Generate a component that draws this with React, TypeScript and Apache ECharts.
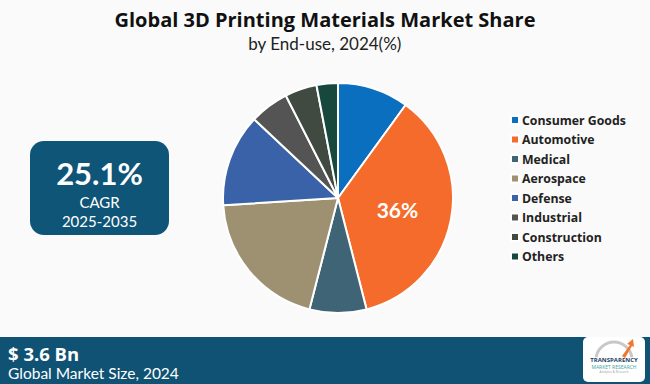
import React, { useEffect, useRef } from "react";
import * as echarts from "echarts";

const categories = ["Consumer Goods", "Automotive", "Medical", "Aerospace", "Defense", "Industrial", "Construction", "Others"];
const shares = [10, 36, 8, 20, 13, 5.5, 4.5, 3];
const colors = ["#0B6FC0", "#F46B2C", "#3F6476", "#9E9172", "#3A62A8", "#545454", "#414A40", "#17473D"];
const labeledCategory = "Automotive";
const titleText = "Global 3D Printing Materials Market Share";
const subtitleText = "by End-use, 2024(%)";
const cagrValue = "25.1%";
const cagrLabel = "CAGR";
const cagrPeriod = "2025-2035";
const marketSize = "$ 3.6 Bn";
const marketSizeLabel = "Global Market Size, 2024";

export default function App() {
  const ref = useRef<HTMLDivElement>(null);
  useEffect(() => {
    document.body.style.margin = "0";
    const chart = echarts.init(ref.current!, null, { renderer: "svg" });
    chart.setOption({
      animation: false,
      backgroundColor: "#FAFAFA",
      legend: {
        orient: "vertical",
        left: 505,
        top: 108,
        itemWidth: 8,
        itemHeight: 8,
        itemGap: 5.5,
        icon: "rect",
        textStyle: { fontFamily: "Open Sans", fontWeight: "bold", fontSize: 12.3, color: "#222", lineHeight: 14, padding: [0, 0, 0, -2] },
        data: categories,
      },
      series: [
        {
          type: "pie",
          center: [338, 198],
          radius: [0, 115],
          startAngle: 90,
          clockwise: true,
          itemStyle: { borderColor: "#FFFFFF", borderWidth: 2 },
          label: { show: false },
          labelLine: { show: false },
          emphasis: { disabled: true },
          data: categories.map((c, i) => ({
            name: c,
            value: shares[i],
            itemStyle: { color: colors[i] },
            label: c === labeledCategory
              ? { show: true, position: "inside", formatter: "{d}%", color: "#FFFFFF", fontFamily: "Lato", fontWeight: "bold", fontSize: 21 }
              : { show: false },
          })),
        },
      ],
      graphic: [
        { type: "text", left: "center", top: 9, style: { text: titleText, font: "bold 20px 'Open Sans'", fill: "#111" } },
        { type: "text", left: "center", top: 35, style: { text: subtitleText, font: "17px Lato", fill: "#222" } },
        { type: "rect", shape: { x: 30, y: 141, width: 139, height: 94, r: 14 }, style: { fill: "#0F5577" } },
        { type: "text", x: 99.5, y: 173, style: { text: cagrValue, font: "bold 31px Lato", fill: "#FFFFFF", align: "center", verticalAlign: "middle" } },
        { type: "text", x: 99.5, y: 202, style: { text: cagrLabel, font: "15px Lato", fill: "#FFFFFF", align: "center", verticalAlign: "middle" } },
        { type: "text", x: 99.5, y: 221, style: { text: cagrPeriod, font: "15px Lato", fill: "#FFFFFF", align: "center", verticalAlign: "middle" } },
        { type: "rect", shape: { x: 0, y: 337, width: 650, height: 47 }, style: { fill: "#0F5274" } },
        { type: "text", x: 8, y: 353, style: { text: marketSize, font: "bold 18.5px 'Open Sans'", fill: "#FFFFFF", verticalAlign: "middle" } },
        { type: "text", x: 8, y: 373, style: { text: marketSizeLabel, font: "15.5px Lato", fill: "#FFFFFF", verticalAlign: "middle" } },
        { type: "rect", shape: { x: 583, y: 337, width: 62, height: 45, r: 5 }, style: { fill: "#FFFFFF" } },
        { type: "arc", shape: { cx: 614, cy: 360, r: 18, startAngle: Math.PI * 1.05, endAngle: Math.PI * 1.95 }, style: { stroke: "#C8C8C8", lineWidth: 3, fill: "none" } },
        { type: "polygon", shape: { points: [[622, 356], [630, 345], [627, 344], [633, 339], [634, 347], [632, 346], [625, 358]] }, style: { fill: "#F0782E" } },
        { type: "text", x: 614, y: 360, style: { text: "TRANSPARENCY", font: "bold 6px 'Open Sans'", fill: "#1D3C5A", align: "center", verticalAlign: "middle" } },
        { type: "text", x: 614, y: 367, style: { text: "MARKET RESEARCH", font: "5px 'Open Sans'", fill: "#3BA3A8", align: "center", verticalAlign: "middle" } },
        { type: "text", x: 614, y: 372, style: { text: "Analytics & Research", font: "3px 'Open Sans'", fill: "#999", align: "center", verticalAlign: "middle" } },
      ],
    });
    return () => chart.dispose();
  }, []);
  return <div ref={ref} style={{ width: 650, height: 384, position: "absolute", left: 0, top: 0 }} />;
}
